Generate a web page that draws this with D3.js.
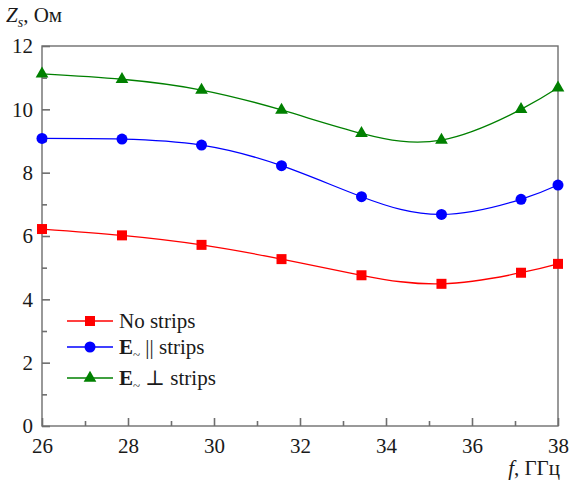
<!DOCTYPE html>
<html>
<head>
<meta charset="utf-8">
<script src="https://cdn.jsdelivr.net/npm/d3@7"></script>
<style>
  body { margin: 0; background: #fff; }
</style>
</head>
<body>
<svg id="chart"></svg>
<script>
// frequencies, GHz
const freqs = [26, 27.86, 29.71, 31.57, 33.43, 35.29, 37.14, 38];
// surface impedance, Ohm
const noStrips = [6.22, 6.02, 5.72, 5.27, 4.76, 4.49, 4.84, 5.12];
const parStrips = [9.08, 9.06, 8.87, 8.22, 7.24, 6.68, 7.16, 7.61];
const perpStrips = [11.12, 10.95, 10.61, 9.98, 9.24, 9.03, 10.0, 10.68];

const xTicks = [26, 28, 30, 32, 34, 36, 38];
const xMinorTicks = [27, 29, 31, 33, 35, 37];
const yTicks = [0, 2, 4, 6, 8, 10, 12];
const yMinorTicks = [1, 3, 5, 7, 9, 11];

const series = [
  {name: "none", values: noStrips, color: "#ff0000", marker: "square"},
  {name: "par", values: parStrips, color: "#0000ff", marker: "circle"},
  {name: "perp", values: perpStrips, color: "#008000", marker: "triangle"}
];

const width = 569, height = 486;
const margin = {top: 46, right: 11, bottom: 60, left: 42};
const serif = "'Liberation Serif', 'Times New Roman', Times, 'DejaVu Serif', serif";

const svg = d3.select("#chart")
    .attr("width", width)
    .attr("height", height)
    .attr("font-family", serif)
    .style("font-family", serif);

const xScale = d3.scaleLinear().domain([26, 38]).range([margin.left, width - margin.right]);
const yScale = d3.scaleLinear().domain([0, 12]).range([height - margin.bottom, margin.top]);

const axisColor = "#6e6e6e";
const textColor = "#1a1a1a";

function styleAxis(g) {
  g.select(".domain").remove();
  g.selectAll(".tick line").attr("stroke", axisColor).attr("stroke-width", 1.6);
  g.selectAll(".tick text")
      .attr("fill", textColor)
      .attr("font-size", "21px")
      .attr("font-family", serif);
}

// frame
svg.append("rect")
    .attr("x", xScale(26))
    .attr("y", yScale(12))
    .attr("width", xScale(38) - xScale(26))
    .attr("height", yScale(0) - yScale(12))
    .attr("fill", "none")
    .attr("stroke", axisColor)
    .attr("stroke-width", 1.4);

// x axis, ticks inward
svg.append("g")
    .attr("transform", `translate(0,${yScale(0)})`)
    .call(d3.axisBottom(xScale).tickValues(xMinorTicks).tickSize(-5).tickFormat(""))
    .call(styleAxis);
svg.append("g")
    .attr("transform", `translate(0,${yScale(0)})`)
    .call(d3.axisBottom(xScale).tickValues(xTicks).tickSize(-8).tickPadding(12).tickFormat(d3.format("d")))
    .call(styleAxis);

// y axis, ticks inward
svg.append("g")
    .attr("transform", `translate(${xScale(26)},0)`)
    .call(d3.axisLeft(yScale).tickValues(yMinorTicks).tickSize(-5).tickFormat(""))
    .call(styleAxis);
svg.append("g")
    .attr("transform", `translate(${xScale(26)},0)`)
    .call(d3.axisLeft(yScale).tickValues(yTicks).tickSize(-8).tickPadding(9).tickFormat(d3.format("d")))
    .call(styleAxis);

// axis titles
const yTitle = svg.append("text")
    .attr("x", 6)
    .attr("y", 22)
    .attr("font-size", "21px")
    .attr("fill", textColor);
yTitle.append("tspan").attr("font-style", "italic").text("Z");
yTitle.append("tspan").attr("font-style", "italic").attr("font-size", "14px").attr("dy", 5).text("s");
yTitle.append("tspan").attr("dy", -5).text(", Ом");

const xTitle = svg.append("text")
    .attr("x", 560)
    .attr("y", 475)
    .attr("text-anchor", "end")
    .attr("font-size", "21px")
    .attr("fill", textColor);
xTitle.append("tspan").attr("font-style", "italic").text("f");
xTitle.append("tspan").text(", ГГц");

// curves
const line = d3.line()
    .x((d, i) => xScale(freqs[i]))
    .y(d => yScale(d))
    .curve(d3.curveNatural);

function drawMarker(g, type, color, cx, cy) {
  if (type === "square") {
    g.append("rect").attr("x", cx - 5).attr("y", cy - 5).attr("width", 10).attr("height", 10).attr("fill", color);
  } else if (type === "circle") {
    g.append("circle").attr("cx", cx).attr("cy", cy).attr("r", 5.5).attr("fill", color);
  } else {
    g.append("path")
      .attr("d", d3.symbol().type(d3.symbolTriangle).size(70)())
      .attr("transform", `translate(${cx},${cy})`)
      .attr("fill", color);
  }
}

series.forEach(s => {
  const g = svg.append("g");
  g.append("path")
      .datum(s.values)
      .attr("d", line)
      .attr("fill", "none")
      .attr("stroke", s.color)
      .attr("stroke-width", 1.3);
  s.values.forEach((v, i) => drawMarker(g, s.marker, s.color, xScale(freqs[i]), yScale(v)));
});

// legend
const legendRows = [321, 347, 378];
const legend = svg.append("g");
series.forEach((s, i) => {
  const y = legendRows[i];
  legend.append("line")
      .attr("x1", 67).attr("x2", 113)
      .attr("y1", y).attr("y2", y)
      .attr("stroke", s.color)
      .attr("stroke-width", 1.3);
  drawMarker(legend, s.marker, s.color, 90, y);
});

legend.append("text").attr("x", 119).attr("y", legendRows[0] + 7).attr("font-size", "21px").attr("fill", textColor).text("No strips");

const l2 = legend.append("text").attr("x", 119).attr("y", legendRows[1] + 7).attr("font-size", "21px").attr("fill", textColor);
l2.append("tspan").attr("font-weight", "bold").text("E");
l2.append("tspan").attr("font-size", "13px").attr("dy", 5).text("~");
l2.append("tspan").attr("dy", -5).text(" || strips");

const l3 = legend.append("text").attr("x", 119).attr("y", legendRows[2] + 7).attr("font-size", "21px").attr("fill", textColor);
l3.append("tspan").attr("font-weight", "bold").text("E");
l3.append("tspan").attr("font-size", "13px").attr("dy", 5).text("~");
l3.append("tspan").attr("dy", -5).text(" \u22A5 strips");
</script>
</body>
</html>
